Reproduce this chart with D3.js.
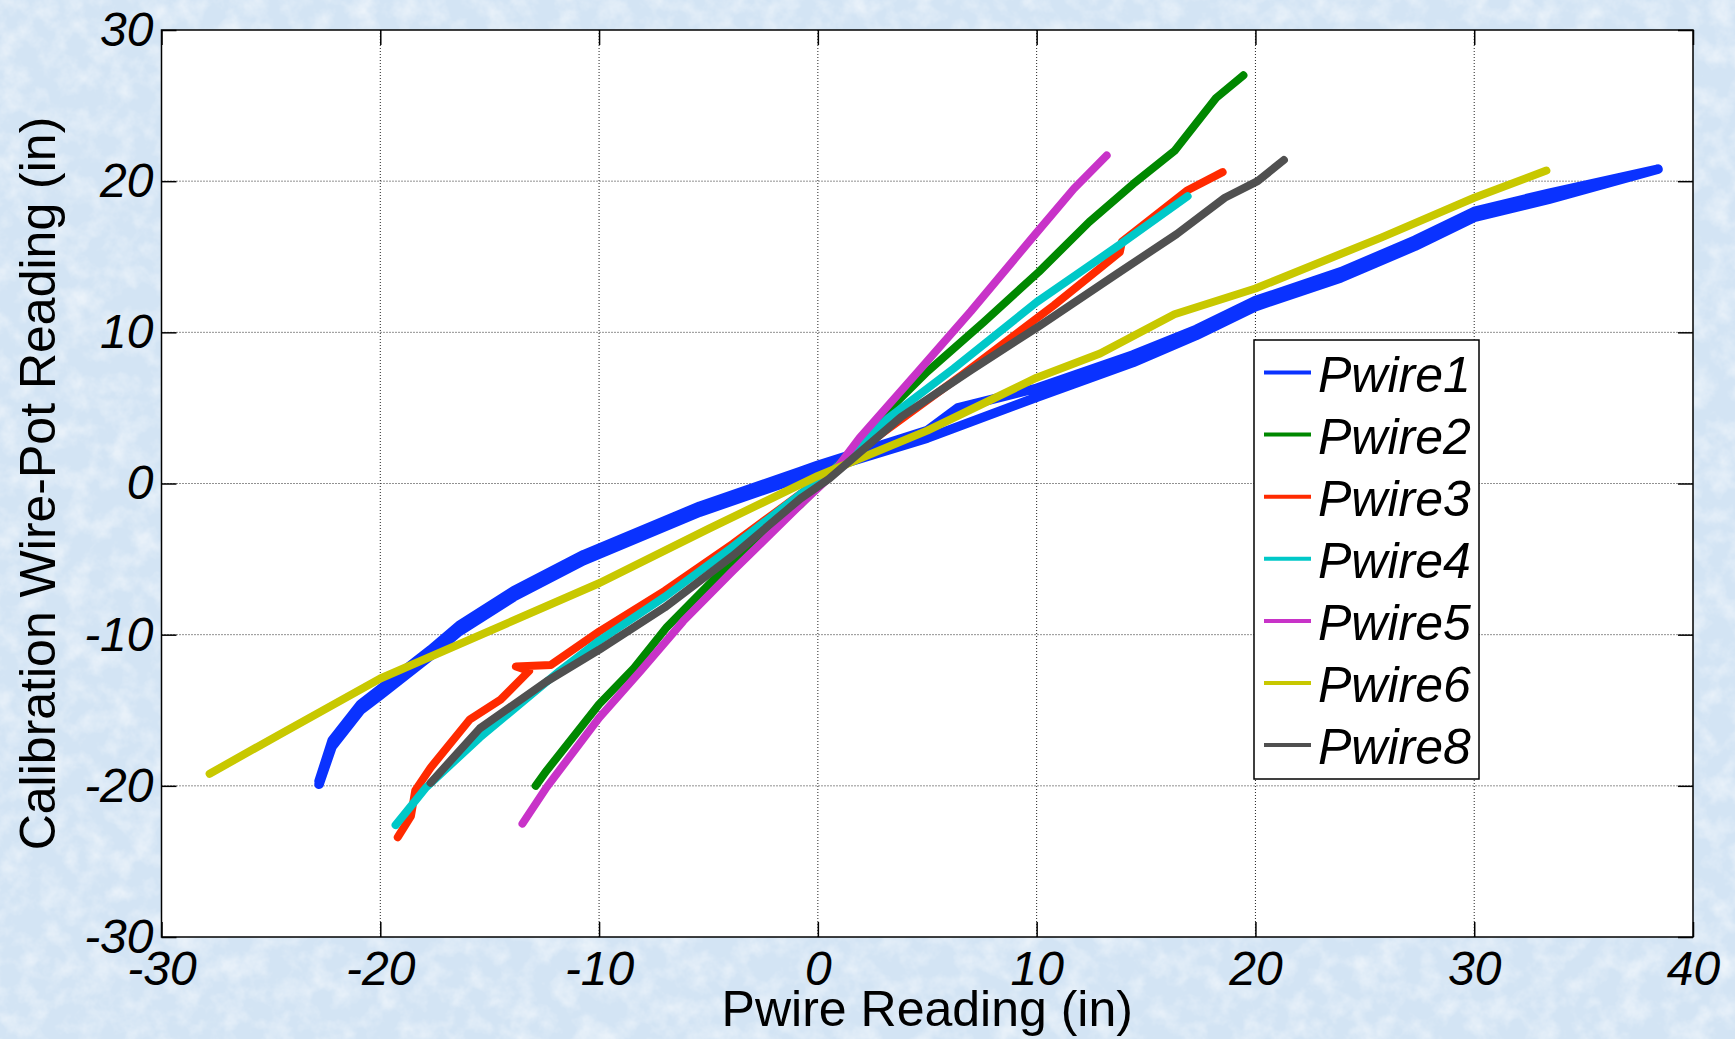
<!DOCTYPE html>
<html>
<head>
<meta charset="utf-8">
<script src="https://cdn.jsdelivr.net/npm/d3@7"></script>
<style>
  html, body { margin: 0; padding: 0; }
  body { width: 1735px; height: 1039px; overflow: hidden; }
  text { font-family: "Liberation Sans", Arial, Helvetica, sans-serif; }
</style>
</head>
<body>
<div id="chart"></div>
<script>
// series, [x, y] in inches
var seriesNames = ["Pwire1", "Pwire2", "Pwire3", "Pwire4", "Pwire5", "Pwire6", "Pwire8"];
var seriesColors = ["#0a32ff", "#008800", "#ff2a00", "#00c8c8", "#c833c8", "#c8c800", "#505050"];

// Pwire1 goes up and comes back a bit lower (hysteresis band)
var pwire1 = [[-22.8,-19.7],[-22.2,-17.0],[-20.9,-14.6],[-20,-13.6],[-17.7,-11.0],[-16.4,-9.4],[-13.9,-7.1],
  [-10.7,-4.7],[-5.4,-1.5],[-0.8,0.8],[0,1.2],[5,3.5],[6.4,5.0],[10,6.3],[14.4,8.5],[17.3,10.2],[20,12.1],
  [23.9,14.0],[27.3,16.1],[30,18.0],[33.4,19.2],[38.4,20.8],
  [33.4,18.8],[30,17.6],[27.3,15.7],[23.9,13.6],[20,11.7],[17.3,9.8],[14.4,8.0],[10,5.7],[5,3.0],[0,0.8],
  [-0.8,0.4],[-5.4,-1.9],[-10.7,-5.1],[-13.9,-7.5],[-16.4,-9.8],[-17.7,-11.4],[-20,-14.0],[-20.9,-15.0],
  [-22.2,-17.4],[-22.8,-19.9]];
var pwire2 = [[-12.9,-20.0],[-12.4,-19.0],[-10,-14.6],[-8.4,-12.2],[-6.9,-9.5],[-3.9,-5.1],[-0.8,-1.4],
  [0.5,0.5],[2.85,4.3],[5,7.4],[7.6,10.7],[10.1,14.0],[12.4,17.3],[14.4,19.8],[16.3,22.0],[18.2,25.5],[19.45,27.0]];
var pwire3 = [[-19.2,-23.4],[-18.6,-22.0],[-18.4,-20.3],[-17.7,-18.8],[-15.9,-15.6],[-14.5,-14.3],[-13.2,-12.4],
  [-13.8,-12.1],[-12.2,-12.0],[-10,-9.8],[-7,-7.1],[-3.9,-4.0],[-0.8,-0.7],[3.2,3.6],[6.6,7.2],[10.8,11.8],
  [13.8,15.3],[13.9,16.0],[16.9,19.4],[18.5,20.6]];
var pwire4 = [[-19.3,-22.6],[-17.9,-20.1],[-15.45,-16.8],[-11.8,-12.4],[-10,-10.4],[-7,-7.5],[-3.9,-4.2],
  [-0.8,-0.7],[0.5,0.6],[3.2,4.3],[6.2,7.6],[10,12.0],[13.8,15.8],[16.9,19.0]];
var pwire5 = [[-13.5,-22.5],[-12.4,-20.1],[-10,-15.5],[-8.1,-12.4],[-6.15,-9.1],[-3.9,-5.8],[-0.8,-1.4],
  [0.6,0.5],[1.9,3.0],[4.7,7.6],[7.0,11.4],[10,16.6],[11.7,19.5],[13.2,21.7]];
var pwire6 = [[-27.8,-19.2],[-24.6,-16.6],[-20,-12.9],[-10,-6.6],[-5,-3.0],[0,0.5],[5,3.5],[10,7.0],
  [12.9,8.6],[16.3,11.2],[20,12.9],[25.8,16.3],[30,18.9],[33.3,20.7]];
var pwire8 = [[-17.7,-19.8],[-15.45,-16.2],[-12.4,-13.1],[-10,-11.0],[-7,-8.2],[-3.9,-4.8],[-0.8,-1.0],
  [0.5,0.3],[3.8,4.4],[7,7.5],[10.1,10.4],[13.6,13.8],[16.4,16.5],[18.6,18.9],[20.1,20.0],[21.3,21.4]];
var seriesData = [pwire1, pwire2, pwire3, pwire4, pwire5, pwire6, pwire8];
var seriesWidths = [9.5, 8, 8, 8, 8, 8, 8];

var xTicks = [-30, -20, -10, 0, 10, 20, 30, 40];
var yTicks = [-30, -20, -10, 0, 10, 20, 30];
var xTitle = "Pwire Reading (in)";
var yTitle = "Calibration Wire-Pot Reading (in)";

// set the dimensions and margins of the graph
var W = 1735, H = 1039;
var margin = {top: 30, right: 42, bottom: 102, left: 161.5},
    width = W - margin.left - margin.right,
    height = H - margin.top - margin.bottom;

var root = d3.select("#chart").append("svg")
    .attr("width", W)
    .attr("height", H);

// paper-like blue background
var defs = root.append("defs");
var f = defs.append("filter").attr("id", "paper")
    .attr("x", 0).attr("y", 0).attr("width", "100%").attr("height", "100%");
f.append("feTurbulence").attr("type", "fractalNoise").attr("baseFrequency", "0.045")
    .attr("numOctaves", 4).attr("seed", 7).attr("result", "n");
f.append("feColorMatrix").attr("in", "n").attr("type", "matrix")
    .attr("values", "0 0 0 0 1  0 0 0 0 1  0 0 0 0 1  1.1 0 0 0 -0.45");
root.append("rect").attr("width", W).attr("height", H).attr("fill", "#d3e4f4");
root.append("rect").attr("width", W).attr("height", H).attr("filter", "url(#paper)");

var svg = root.append("g")
    .attr("transform", "translate(" + margin.left + "," + margin.top + ")");

var x = d3.scaleLinear().domain([-30, 40]).range([0, width]);
var y = d3.scaleLinear().domain([-30, 30]).range([height, 0]);

svg.append("rect").attr("width", width).attr("height", height).attr("fill", "#fff");

// dotted grid
svg.append("g").selectAll("line").data(xTicks.slice(1, -1)).enter().append("line")
    .attr("x1", d => x(d)).attr("x2", d => x(d)).attr("y1", 0).attr("y2", height)
    .attr("stroke", "#222").attr("stroke-width", 1).attr("stroke-dasharray", "1,2");
svg.append("g").selectAll("line").data(yTicks.slice(1, -1)).enter().append("line")
    .attr("y1", d => y(d)).attr("y2", d => y(d)).attr("x1", 0).attr("x2", width)
    .attr("stroke", "#222").attr("stroke-width", 1).attr("stroke-dasharray", "1,2");

// the series
var line = d3.line().x(d => x(d[0])).y(d => y(d[1]));
svg.append("g").selectAll("path").data(seriesData).enter().append("path")
    .attr("d", line)
    .attr("fill", "none")
    .attr("stroke", (d, i) => seriesColors[i])
    .attr("stroke-width", (d, i) => seriesWidths[i])
    .attr("stroke-linejoin", "round")
    .attr("stroke-linecap", "round");

// axes, ticks inside on all four sides
function styleAxis(g) {
  g.select(".domain").remove();
  g.selectAll(".tick line").attr("stroke", "#000").attr("stroke-width", 1.5);
  g.selectAll("text").attr("fill", "#000").style("font-size", "48px").style("font-style", "italic")
    .style("font-family", "'Liberation Sans', Arial, sans-serif");
}
svg.append("g").attr("transform", "translate(0," + height + ")")
    .call(d3.axisBottom(x).tickValues(xTicks).tickFormat(d => String(d)).tickSizeInner(-15).tickSizeOuter(0).tickPadding(14))
    .call(styleAxis);
svg.append("g")
    .call(d3.axisTop(x).tickValues(xTicks).tickFormat("").tickSizeInner(-15).tickSizeOuter(0))
    .call(styleAxis);
svg.append("g")
    .call(d3.axisLeft(y).tickValues(yTicks).tickFormat(d => String(d)).tickSizeInner(-15).tickSizeOuter(0).tickPadding(8))
    .call(styleAxis);
svg.append("g").attr("transform", "translate(" + width + ",0)")
    .call(d3.axisRight(y).tickValues(yTicks).tickFormat("").tickSizeInner(-15).tickSizeOuter(0))
    .call(styleAxis);

svg.append("rect").attr("width", width).attr("height", height)
    .attr("fill", "none").attr("stroke", "#000").attr("stroke-width", 1.5);

// axis titles
root.append("text")
    .attr("x", margin.left + width / 2).attr("y", 1026)
    .attr("text-anchor", "middle")
    .style("font-size", "50px")
    .text(xTitle);
root.append("text")
    .attr("transform", "translate(55," + (margin.top + height / 2) + ") rotate(-90)")
    .attr("text-anchor", "middle")
    .style("font-size", "50px")
    .text(yTitle);

// legend
var lg = root.append("g").attr("transform", "translate(1254,340)");
lg.append("rect").attr("width", 225).attr("height", 439)
    .attr("fill", "#fff").attr("stroke", "#000").attr("stroke-width", 1.5);
var items = lg.selectAll("g.item").data(seriesNames).enter().append("g")
    .attr("class", "item")
    .attr("transform", (d, i) => "translate(0," + (32.5 + i * 62.1) + ")");
items.append("line").attr("x1", 10).attr("x2", 57).attr("y1", 0).attr("y2", 0)
    .attr("stroke", (d, i) => seriesColors[i]).attr("stroke-width", 4);
items.append("text").attr("x", 64).attr("y", 19)
    .style("font-size", "50px").style("font-style", "italic")
    .text(d => d);
</script>
</body>
</html>
